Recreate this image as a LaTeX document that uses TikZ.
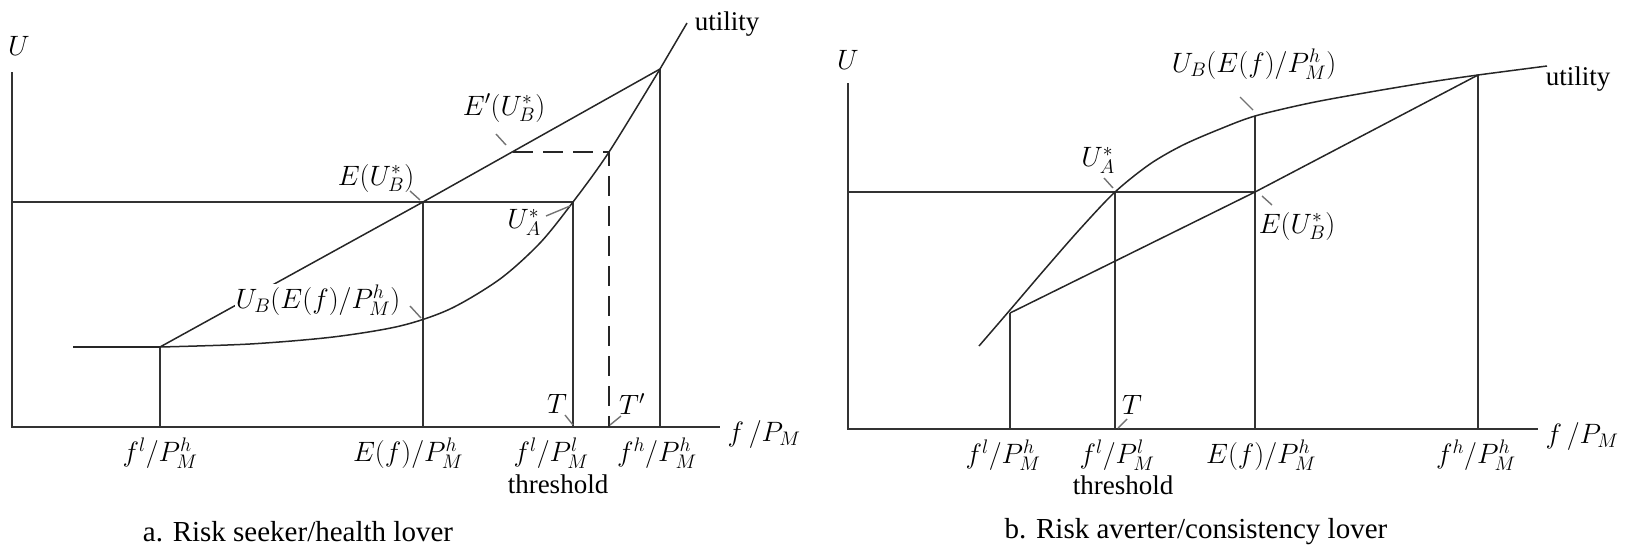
\RequirePackage{fix-cm}
\documentclass[tikz,border=0pt]{standalone}
\usepackage{fontspec}
\setmainfont{Liberation Serif}
\begin{document}
\begin{tikzpicture}[x=1pt,y=-1pt,
  axisline/.style={draw=black!80,line width=2pt},
  vline/.style={draw=black!80,line width=1.9pt},
  curveline/.style={draw=black!85,line width=1.5pt},
  dashline/.style={draw=black!85,line width=1.8pt,dash pattern=on 20pt off 10pt},
  leader/.style={draw=black!55,line width=1.4pt},
  lab/.style={inner sep=1pt,font=\fontsize{28}{32}\selectfont},
  txt/.style={inner sep=0pt,font=\rmfamily\fontsize{27}{30}\selectfont},
  captxt/.style={inner sep=1pt,font=\rmfamily\fontsize{29}{32}\selectfont}]
\useasboundingbox (0,0) rectangle (1625,550);
% ---------- panel a ----------
\coordinate (Ay) at (12,72);
\coordinate (Ao) at (12,427);
\coordinate (Ax) at (720,427);
\coordinate (AY) at (12,202);
\coordinate (Aflat) at (73,347);
\coordinate (Afl) at (160,347);
\coordinate (Afl0) at (160,427);
\coordinate (AE) at (423,202);
\coordinate (AE0) at (423,427);
\coordinate (AUA) at (573,202);
\coordinate (AUA0) at (573,427);
\coordinate (Atop) at (660,69);
\coordinate (Atop0) at (660,427);
\coordinate (Aend) at (687,23);
\coordinate (AEp) at (513,152);
\coordinate (ATp) at (609,152);
\coordinate (ATp0) at (609,427);

\draw[axisline] (Ay) -- (Ao) -- (Ax);
\draw[vline] (AY) -- (AUA);
\draw[vline] (AE) -- (AE0);
\draw[vline] (AUA) -- (AUA0);
\draw[vline] (Atop) -- (Atop0);
\draw[vline] (Afl) -- (Afl0);
\draw[curveline] (Afl) -- (AE) -- (Atop);
\draw[dashline] (AEp) -- (ATp) -- (ATp0);
\node[lab,fill=white] (lUBa) at (318,300) {$U_B\Bigl(E(f)/P_M^h\Bigr)$};
\draw[curveline] (Aflat) -- (Afl);
\draw[curveline] plot[smooth,tension=0.5] coordinates {(160,347) (250,344) (333,337) (400,326) (450,309) (500,279) (540,243) (573,202) (609,152) (660,69)} -- (Aend);

\node[lab] (lU1) at (19,46) {$U$};
\node[lab] (lx1) at (764,434) {$f\,/P_M$};
\node[txt] (lut1) at (727,24) {utility};
\node[lab] (lEUB1) at (376,178) {$E(U_B^*)$};
\node[lab] (lEpUB) at (504,108) {$E'(U_B^*)$};
\node[lab] (lUA1) at (524,222) {$U_A^*$};
\node[lab] (lT1) at (557,404) {$T$};
\node[lab] (lTp) at (632,404) {$T'$};
\coordinate (k1a) at (410,191); \coordinate (k1b) at (420,200);
\coordinate (k2a) at (496,134); \coordinate (k2b) at (506,145);
\coordinate (k3a) at (546,216); \coordinate (k3b) at (570,206);
\coordinate (k4a) at (410,306); \coordinate (k4b) at (421,318);
\coordinate (k5a) at (565,415); \coordinate (k5b) at (573,425);
\coordinate (k6a) at (621,416); \coordinate (k6b) at (610,425);
\draw[leader] (k1a) -- (k1b);
\draw[leader] (k2a) -- (k2b);
\draw[leader] (k3a) -- (k3b);
\draw[leader] (k4a) -- (k4b);
\draw[leader] (k5a) -- (k5b);
\draw[leader] (k6a) -- (k6b);

\node[lab] (xa1) at (160,453) {$f^l/P_M^h$};
\node[lab] (xa2) at (408,453) {$E(f)/P_M^h$};
\node[lab] (xa3) at (551,453) {$f^l/P_M^l$};
\node[lab] (xa4) at (657,453) {$f^h/P_M^h$};
\node[txt] (tha) at (558,484) {threshold};
\node[captxt] (capa) at (298,532) {a. Risk seeker/health lover};

% ---------- panel b ----------
\coordinate (By) at (848,83);
\coordinate (Bo) at (848,429);
\coordinate (Bx) at (1538,429);
\coordinate (BY) at (848,192);
\coordinate (BUA) at (1115,192);
\coordinate (BUA0) at (1115,429);
\coordinate (BE) at (1255,192);
\coordinate (BEc) at (1255,116);
\coordinate (BE0) at (1255,429);
\coordinate (Bfl) at (1010,313);
\coordinate (Bfl0) at (1010,429);
\coordinate (Btop) at (1478,75);
\coordinate (Btop0) at (1478,429);

\draw[axisline] (By) -- (Bo) -- (Bx);
\draw[vline] (BY) -- (BE);
\draw[vline] (BUA) -- (BUA0);
\draw[vline] (BEc) -- (BE0);
\draw[vline] (Btop) -- (Btop0);
\draw[vline] (Bfl) -- (Bfl0);
\draw[curveline] (Bfl) -- (BE) -- (Btop);
\draw[curveline] plot[smooth,tension=0.5] coordinates {(979,346) (1010,310) (1045,269) (1080,229) (1115,192) (1150,164) (1183,145) (1220,129) (1255,116) (1310,103) (1370,92) (1430,82) (1478,75) (1547,66)};

\node[lab] (lU2) at (848,60) {$U$};
\node[lab] (lx2) at (1582,436) {$f\,/P_M$};
\node[txt] (lut2) at (1578,79) {utility};
\node[lab] (lUBb) at (1254,64) {$U_B\Bigl(E(f)/P_M^h\Bigr)$};
\node[lab] (lUA2) at (1098,160) {$U_A^*$};
\node[lab] (lEUB2) at (1297,226) {$E(U_B^*)$};
\node[lab] (lT2) at (1132,405) {$T$};
\coordinate (m1a) at (1240,97); \coordinate (m1b) at (1253,110);
\coordinate (m2a) at (1104,178); \coordinate (m2b) at (1113,188);
\coordinate (m3a) at (1262,196); \coordinate (m3b) at (1272,205);
\coordinate (m4a) at (1127,419); \coordinate (m4b) at (1118,428);
\draw[leader] (m1a) -- (m1b);
\draw[leader] (m2a) -- (m2b);
\draw[leader] (m3a) -- (m3b);
\draw[leader] (m4a) -- (m4b);

\node[lab] (xb1) at (1003,455) {$f^l/P_M^h$};
\node[lab] (xb2) at (1117,455) {$f^l/P_M^l$};
\node[lab] (xb3) at (1261,455) {$E(f)/P_M^h$};
\node[lab] (xb4) at (1476,455) {$f^h/P_M^h$};
\node[txt] (thb) at (1123,485) {threshold};
\node[captxt] (capb) at (1196,532) {b. Risk averter/consistency lover};
\end{tikzpicture}
\end{document}
